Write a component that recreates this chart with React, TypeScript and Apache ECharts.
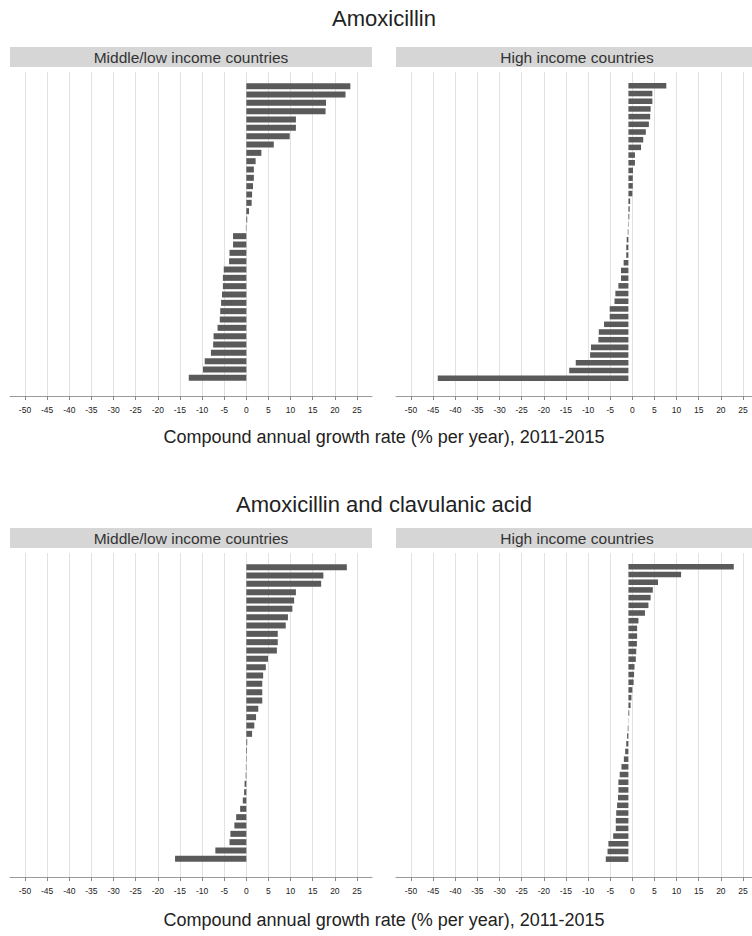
import React, { useEffect, useRef } from "react";
import * as echarts from "echarts";

// ---- data (top bar first) ----
const amoxLowIncome = [
  23.5, 22.4, 18.0, 17.9, 11.2, 11.2, 9.8, 6.2, 3.4, 2.1, 1.7, 1.7, 1.5, 1.3, 1.2, 0.6, 0.2, -0.1,
  -3.0, -3.0, -3.8, -3.9, -5.1, -5.3, -5.3, -5.5, -5.7, -5.9, -6.0, -6.5, -7.4, -7.5, -8.0, -9.4, -9.8, -13.0,
];
const amoxHighIncome = [
  8.7, 5.5, 5.5, 5.1, 5.0, 4.7, 4.0, 3.4, 2.9, 1.5, 1.5, 1.05, 1.0, 1.0, 0.9, 0.4, 0.3, 0.2, 0.1,
  -0.15, -0.4, -0.5, -0.5, -1.1, -1.7, -1.7, -2.3, -3.0, -3.2, -4.3, -4.3, -5.6, -6.8, -6.9, -8.6, -8.8,
  -12.1, -13.6, -43.8,
];
const amoxClavLowIncome = [
  22.7, 17.4, 16.9, 11.2, 10.8, 10.4, 9.4, 8.9, 7.1, 7.1, 6.9, 4.9, 4.4, 3.8, 3.6, 3.6, 3.6, 2.7, 2.2,
  1.8, 1.3, 0.2, 0.15, 0.1, -0.1, -0.15, -0.4, -0.5, -0.8, -1.4, -2.3, -2.7, -3.6, -3.8, -7.0, -16.1,
];
const amoxClavHighIncome = [
  24.2, 12.1, 6.8, 5.6, 5.1, 4.6, 3.8, 2.3, 2.0, 2.0, 1.95, 1.8, 1.7, 1.4, 1.3, 1.2, 0.9, 0.7, 0.5, 0.2,
  0.05, -0.15, -0.3, -0.5, -0.75, -1.05, -1.6, -2.0, -2.3, -2.3, -2.4, -2.6, -2.8, -2.9, -2.9, -3.5,
  -4.6, -4.8, -5.2,
];

const xTicks = [-50, -45, -40, -35, -30, -25, -20, -15, -10, -5, 0, 5, 10, 15, 20, 25];
const drugTitles = ["Amoxicillin", "Amoxicillin and clavulanic acid"];
const stripLabels = ["Middle/low income countries", "High income countries"];
const axisTitle = "Compound annual growth rate (% per year), 2011-2015";

const FONT = "'Liberation Sans', Arial, Helvetica, sans-serif";

export default function App() {
  const ref = useRef<HTMLDivElement>(null);

  useEffect(() => {
    document.body.style.margin = "0";
    if (!ref.current) return;
    const chart = echarts.init(ref.current, undefined, { renderer: "svg" });

    const tickMin = xTicks[0];
    const tickMax = xTicks[xTicks.length - 1];
    const tickStep = xTicks[1] - xTicks[0];
    const innerW = 332; // width of the -50..25 span
    const pad = 15; // extra width of the frame on each side
    const extMin = tickMin - (pad * (tickMax - tickMin)) / innerW;
    const extMax = tickMax + (pad * (tickMax - tickMin)) / innerW;

    const rows = [
      { title: drugTitles[0], titleY: 18.5, stripY: 47, top: 72, axisTitleY: 437, data: [amoxLowIncome, amoxHighIncome] },
      { title: drugTitles[1], titleY: 504, stripY: 528, top: 553, axisTitleY: 920, data: [amoxClavLowIncome, amoxClavHighIncome] },
    ];
    const cols = [10, 396];
    const frameW = innerW + 2 * pad;
    const gridH = 324;

    const grid: any[] = [];
    const xAxis: any[] = [];
    const yAxis: any[] = [];
    const series: any[] = [];
    const graphic: any[] = [];

    rows.forEach((row) => {
      graphic.push({
        type: "text",
        x: 384,
        y: row.titleY,
        style: { text: row.title, fill: "#222", font: `22px ${FONT}`, textAlign: "center", textVerticalAlign: "middle" },
      });
      graphic.push({
        type: "text",
        x: 384,
        y: row.axisTitleY,
        style: { text: axisTitle, fill: "#222", font: `18px ${FONT}`, textAlign: "center", textVerticalAlign: "middle" },
      });
      cols.forEach((left, ci) => {
        // strip
        graphic.push({
          type: "rect",
          shape: { x: left, y: row.stripY, width: frameW, height: 20 },
          style: { fill: "#d6d6d6" },
        });
        graphic.push({
          type: "text",
          x: left + frameW / 2,
          y: row.stripY + 10,
          style: { text: stripLabels[ci], fill: "#333", font: `15.5px ${FONT}`, textAlign: "center", textVerticalAlign: "middle" },
        });

        // grid A: gridlines, ticks, labels
        const ga = grid.length;
        grid.push({ left: left + pad, top: row.top, width: innerW, height: gridH, containLabel: false });
        xAxis.push({
          type: "value",
          gridIndex: ga,
          min: tickMin,
          max: tickMax,
          interval: tickStep,
          axisLine: { show: false },
          axisTick: { show: true, length: 4, lineStyle: { color: "#888", width: 1 } },
          axisLabel: { show: true, margin: 9, color: "#222", fontSize: 8.5, fontFamily: FONT },
          splitLine: { show: true, lineStyle: { color: "#e2e2e2", width: 1 } },
        });
        yAxis.push({ type: "value", gridIndex: ga, min: 0, max: 1, show: false });

        // grid B: bars and axis line
        const gb = grid.length;
        const barTop = row.top + 10;
        const barH = 300;
        grid.push({ left, top: barTop, width: frameW, height: barH, containLabel: false });
        xAxis.push({
          type: "value",
          gridIndex: gb,
          min: extMin,
          max: extMax,
          offset: row.top + gridH - (barTop + barH),
          axisLine: { show: true, lineStyle: { color: "#9a9a9a", width: 1 } },
          axisTick: { show: false },
          axisLabel: { show: false },
          splitLine: { show: false },
        });
        const vals = row.data[ci];
        yAxis.push({
          type: "category",
          gridIndex: gb,
          inverse: true,
          data: vals.map((_, i) => String(i + 1)),
          show: false,
        });
        series.push({
          type: "bar",
          xAxisIndex: gb,
          yAxisIndex: gb,
          data: vals,
          barCategoryGap: "28%",
          itemStyle: { color: "#5a5a5a" },
          silent: true,
        });
      });
    });

    chart.setOption({
      animation: false,
      backgroundColor: "#ffffff",
      grid,
      xAxis,
      yAxis,
      series,
      graphic,
    });

    return () => chart.dispose();
  }, []);

  return <div ref={ref} style={{ width: 752, height: 936 }} />;
}
